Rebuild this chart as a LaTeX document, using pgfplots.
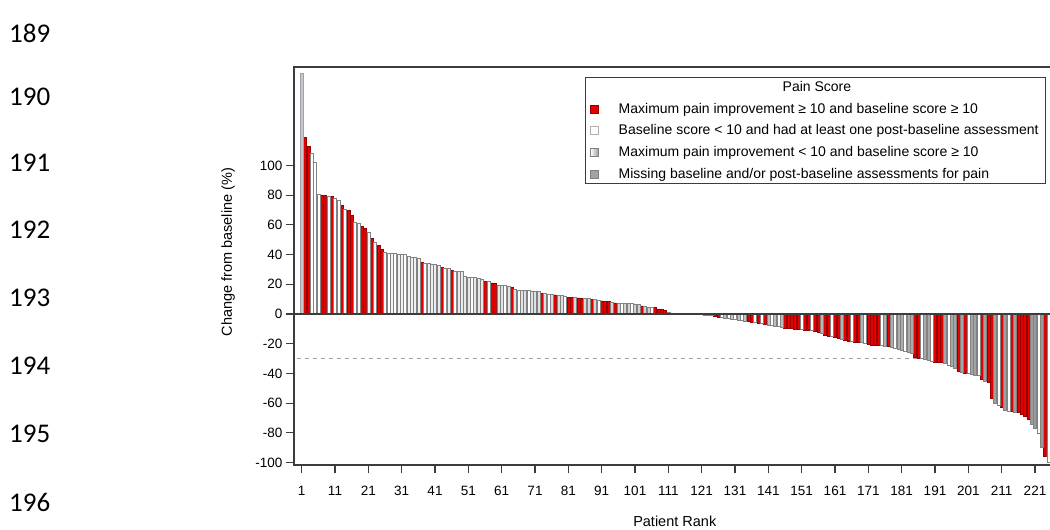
\documentclass[border=0pt]{standalone}
\usepackage{fontspec}
\setmainfont{Liberation Sans}
\newfontfamily\carlito{Carlito}
\usepackage{pgfplots}
\pgfplotsset{compat=1.18}
\definecolor{barred}{RGB}{226,0,0}
\definecolor{barredline}{RGB}{150,0,0}
\definecolor{bargray}{RGB}{160,164,170}
\definecolor{barline}{RGB}{130,130,130}
\definecolor{axisgray}{RGB}{60,60,60}
\begin{document}
\begin{tikzpicture}[x=1pt,y=1pt]
\useasboundingbox (0pt,0pt) rectangle (1050pt,530pt);
\foreach \n/\yy in {189/33,190/97,191/163,192/230,193/298,194/366,195/434,196/502}
  \node[anchor=west, inner sep=0pt, font=\carlito\fontsize{27}{27}\selectfont] at (9pt,{(530-\yy)*1pt}) {\n};
\begin{axis}[
  at={(294pt,65pt)}, anchor=south west,
  width=760pt, height=398pt, scale only axis,
  xmin=-1.3, xmax=226.7, ymin=-101.7, ymax=166.3,
  axis line style={axisgray, line width=1.3pt},
  xtick={1,11,...,221}, ytick={-100,-80,...,100},
  xtick pos=left, ytick pos=left,
  tick align=outside, major tick length=8pt,
  tick style={axisgray, line width=1.1pt},
  /pgf/number format/assume math mode=true,
  ticklabel style={font=\fontsize{13.5}{15}\selectfont},
  xticklabel style={yshift=-10pt},
  every axis x label/.style={at={(axis description cs:0.501,-0.1407)}, anchor=center},
  every axis y label/.style={at={(axis description cs:-0.0868,0.535)}, rotate=90, anchor=center},
  label style={font=\fontsize{14.5}{16}\selectfont},
  xlabel={Patient Rank}, ylabel={Change from baseline (\%)},
  mybar/.style={ybar, bar width=0.92, bar shift=0pt, line width=0.5pt},
  legend style={at={(axis description cs:0.9895,0.975)}, anchor=north east,
    draw=axisgray, line width=0.9pt, font=\fontsize{14}{15}\selectfont,
    row sep=6pt, inner xsep=5pt, inner ysep=2pt, fill=white},
  legend cell align=left,
]
\draw[gray!75, dash pattern=on 4pt off 4pt, line width=0.8pt] (axis cs:-0.5,-30) -- (axis cs:226.7,-30);
\addlegendimage{empty legend}
\addlegendentry{\hspace{182pt}Pain Score}
\addplot[mybar, fill=barred, draw=barredline,
  legend image code/.code={\draw[fill=barred, draw=barredline, line width=0.4pt] (0pt,-4pt) rectangle (8pt,4pt);}]
coordinates {(2,119) (3,113) (7,80) (8,80) (10,79) (13,73) (15,70) (16,66.5) (19,59) (20,57.5) (22,51) (24,46) (25,43.5) (37,34.5) (43,31.5) (46,29.5) (56,22) (58,21) (59,20.5) (64,17.8) (73,14) (77,12.8) (81,11.3) (82,11.2) (84,10.8) (85,10.7) (88,9.8) (91,8.8) (92,8.6) (93,8.4) (95,7.5) (103,5.5) (107,4.5) (108,3.5) (109,3.2) (110,2.5) (125,-1.8) (126,-2) (135,-5) (136,-5.3) (138,-6.3) (140,-6.7) (146,-9.4) (147,-9.6) (148,-9.8) (149,-10) (150,-10.2) (152,-10.8) (153,-11) (155,-11.8) (156,-12.1) (158,-14.3) (159,-14.8) (161,-16) (162,-16.5) (164,-18) (165,-18.3) (167,-18.8) (168,-19) (171,-20.5) (172,-20.8) (173,-21) (174,-21.2) (177,-21.8) (185,-29) (186,-29.5) (191,-32.3) (192,-32.5) (193,-32.8) (198,-38.8) (200,-39.8) (205,-44) (207,-46) (208,-57) (211,-63) (214,-65.6) (216,-66.5) (217,-67.5) (218,-69) (219,-71) (224,-95.5)};
\addlegendentry{\hspace{18pt}Maximum pain improvement ≥ 10 and baseline score ≥ 10}
\addplot[mybar, fill=white, draw=barline,
  legend image code/.code={\draw[fill=white, draw=gray!60, line width=0.4pt] (0pt,-4pt) rectangle (8pt,4pt);}]
coordinates {(27,41) (29,40.8) (32,40) (38,34.3) (44,31) (47,29) (52,24.8) (57,22) (62,19) (66,16.3) (69,15.8) (75,13.6) (80,12) (90,9.5) (97,7.2) (100,7) (106,4.6) (114,0) (117,0) (120,-0.5) (123,-1) (127,-2.5) (129,-3) (131,-3.6) (133,-4.3) (137,-5.8) (139,-6.5) (142,-7.8) (144,-8.6) (151,-10.4) (154,-11.3) (160,-15.2) (166,-18.5) (170,-19.5) (175,-21.4) (179,-22.8) (182,-25) (187,-30) (190,-31.8) (195,-34.5) (201,-40.2) (204,-41.5) (210,-61.5) (213,-65.2) (222,-80) (225,-99.8)};
\addlegendentry{\hspace{18pt}Baseline score < 10 and had at least one post-baseline assessment}
\addplot[mybar, left color=white, right color=gray!80, draw=barline,
  legend image code/.code={\draw[left color=white, right color=gray!80, draw=gray, line width=0.4pt] (0pt,-4pt) rectangle (8pt,4pt);}]
coordinates {(4,108) (5,102) (6,80.5) (9,79.5) (11,78) (12,76.5) (14,70.5) (17,62) (18,61) (21,55) (23,48.5) (26,41.5) (28,41) (30,40.5) (31,40.3) (33,39) (34,38.5) (35,38) (36,37.5) (39,34) (40,33.8) (41,33.5) (42,32.5) (45,30.8) (48,28.8) (49,28.5) (50,25.5) (51,25) (53,24.5) (54,24) (55,23.5) (60,19.5) (61,19) (63,18.8) (65,16.5) (67,16) (68,16) (70,15.5) (71,15.3) (72,15) (74,13.8) (76,13.5) (78,12.5) (79,12.3) (83,11) (86,10.5) (87,10.3) (89,9.7) (94,8) (96,7.3) (98,7.1) (99,7) (101,6.8) (102,6.5) (104,5) (105,4.8) (111,1) (112,0.3) (113,0) (115,0) (116,0) (118,0) (119,-0.3) (121,-0.5) (122,-0.8) (124,-1.2) (128,-2.8) (130,-3.3) (132,-4) (134,-4.7) (141,-7.4) (143,-8.2) (145,-9) (157,-12.8) (163,-17.3) (169,-19.2) (176,-21.6) (178,-22.2) (180,-23.5) (181,-24.2) (183,-25.7) (184,-26.4) (188,-30.5) (189,-31) (194,-33.5) (196,-35.5) (197,-36.6) (199,-39.3) (202,-40.5) (203,-41) (206,-45) (209,-60) (212,-64.5) (215,-66) (220,-74.5) (221,-77) (223,-89.5)};
\addlegendentry{\hspace{18pt}Maximum pain improvement < 10 and baseline score ≥ 10}
\addplot[mybar, fill=bargray!60, draw=bargray,
  legend image code/.code={\draw[fill=bargray, draw=gray, line width=0.4pt] (0pt,-4pt) rectangle (8pt,4pt);}]
coordinates {(1,162)};
\addlegendentry{\hspace{18pt}Missing baseline and/or post-baseline assessments for pain}
\draw[axisgray, line width=1.3pt] (axis cs:-1.3,0) -- (axis cs:226.7,0);
\end{axis}
\end{tikzpicture}
\end{document}
